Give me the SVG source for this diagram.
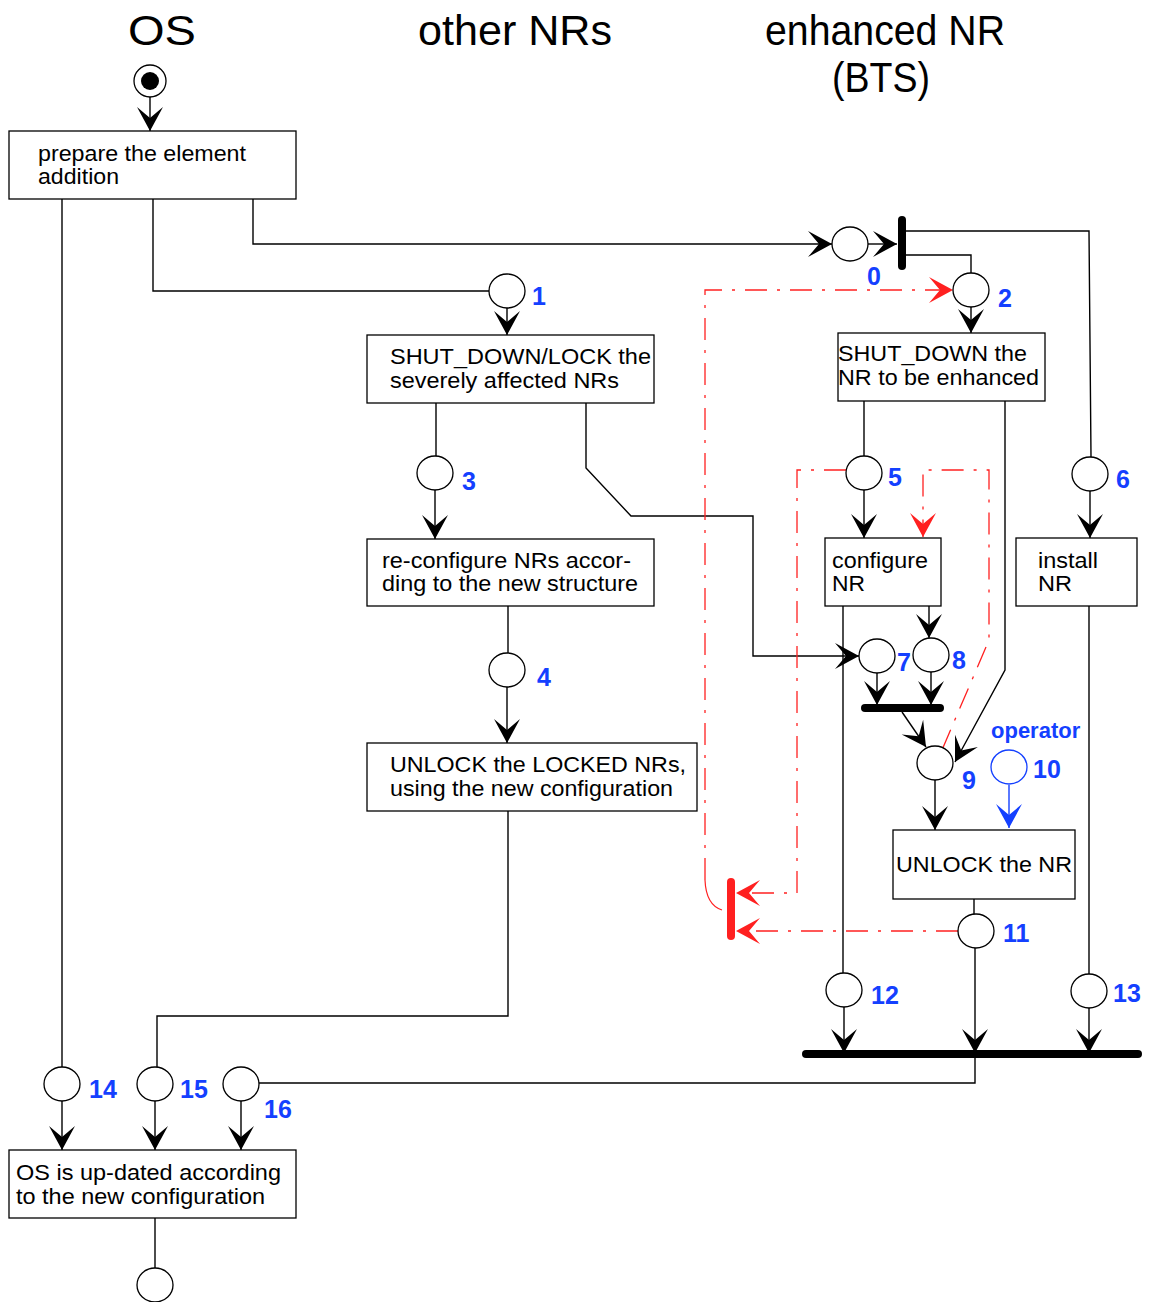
<svg xmlns="http://www.w3.org/2000/svg" width="1152" height="1302" viewBox="0 0 1152 1302">
<style>
.t{font-family:"Liberation Sans",Arial,sans-serif;font-size:42px;fill:#000}
.bx{fill:#fff;stroke:#000;stroke-width:1.3}
.tx{font-family:"Liberation Sans",Arial,sans-serif;font-size:22px;fill:#000}
.pl{fill:#fff;stroke:#000;stroke-width:1.3}
.lb{font-family:"Liberation Sans",Arial,sans-serif;font-size:25px;font-weight:bold;fill:#1440ff}
.ln{fill:none;stroke:#000;stroke-width:1.4}
.ar{fill:none;stroke:#000;stroke-width:1.4;marker-end:url(#ah)}
.rd{fill:none;stroke:#ff2020;stroke-width:1.3;stroke-dasharray:22,10,3,10}
.bar{stroke:#000;stroke-width:8;stroke-linecap:round}
</style>
<defs>
<marker id="ah" markerUnits="userSpaceOnUse" markerWidth="30" markerHeight="30" viewBox="-26 -15 28 30" refX="0" refY="0" orient="auto">
<path d="M0,0 L-24,-13 L-13,0 L-24,13 Z" fill="#000"/>
</marker>
<marker id="ahr" markerUnits="userSpaceOnUse" markerWidth="30" markerHeight="30" viewBox="-26 -15 28 30" refX="0" refY="0" orient="auto">
<path d="M0,0 L-24,-13 L-13,0 L-24,13 Z" fill="#ff2020"/>
</marker>
<marker id="ahb" markerUnits="userSpaceOnUse" markerWidth="30" markerHeight="30" viewBox="-26 -15 28 30" refX="0" refY="0" orient="auto">
<path d="M0,0 L-24,-13 L-13,0 L-24,13 Z" fill="#1440ff"/>
</marker>
</defs>
<rect width="1152" height="1302" fill="#fff"/>

<g id="titles">
<text class="t" x="128" y="45" textLength="68" lengthAdjust="spacingAndGlyphs">OS</text>
<text class="t" x="418" y="45" textLength="194" lengthAdjust="spacingAndGlyphs">other NRs</text>
<text class="t" x="765" y="45" textLength="240" lengthAdjust="spacingAndGlyphs">enhanced NR</text>
<text class="t" x="832" y="92" textLength="98" lengthAdjust="spacingAndGlyphs">(BTS)</text>
</g>

<g id="connectors">
<line class="ar" x1="150" y1="97" x2="150" y2="131"/>
<line class="ln" x1="62" y1="199" x2="62" y2="1067"/>
<polyline class="ln" points="153,199 153,291 489,291"/>
<polyline class="ar" points="253,199 253,244 832,244"/>
<line class="ar" x1="868" y1="244" x2="897" y2="244"/>
<polyline class="ln" points="905,231 1089,231 1091,457"/>
<polyline class="ln" points="905,255 971,255 971,273"/>
<line class="ar" x1="507" y1="308" x2="507" y2="335"/>
<line class="ar" x1="971" y1="307" x2="971" y2="333"/>
<line class="ln" x1="436" y1="403" x2="436" y2="456"/>
<line class="ar" x1="435" y1="490" x2="435" y2="539"/>
<polyline class="ar" points="586,403 586,468 631,516 753,516 753,656 859,656"/>
<line class="ln" x1="508" y1="606" x2="508" y2="653"/>
<line class="ar" x1="507" y1="687" x2="507" y2="743"/>
<polyline class="ln" points="508,811 508,1016 157,1016 157,1067"/>
<line class="ln" x1="864" y1="401" x2="864" y2="456"/>
<line class="ar" x1="864" y1="490" x2="864" y2="538"/>
<polyline class="ar" points="1005,401 1005,670 955,762"/>
<line class="ar" x1="1090" y1="491" x2="1090" y2="538"/>
<line class="ln" x1="843" y1="606" x2="843" y2="973"/>
<line class="ar" x1="929" y1="606" x2="929" y2="638"/>
<line class="ar" x1="877" y1="673" x2="877" y2="705"/>
<line class="ar" x1="931" y1="672" x2="931" y2="705"/>
<line class="ar" x1="902" y1="712" x2="926" y2="747"/>
<line class="ar" x1="935" y1="780" x2="935" y2="830"/>
<line x1="1009" y1="785" x2="1009" y2="828" stroke="#1440ff" stroke-width="1.4" marker-end="url(#ahb)"/>
<line class="ln" x1="974" y1="899" x2="974" y2="914"/>
<line class="ar" x1="975" y1="948" x2="975" y2="1053"/>
<polyline class="ln" points="975,1053 975,1083 259,1083"/>
<line class="ar" x1="844" y1="1007" x2="844" y2="1053"/>
<line class="ln" x1="1089" y1="606" x2="1089" y2="974"/>
<line class="ar" x1="1089" y1="1008" x2="1089" y2="1053"/>
<line class="ar" x1="62" y1="1101" x2="62" y2="1150"/>
<line class="ar" x1="155" y1="1101" x2="155" y2="1150"/>
<line class="ar" x1="241" y1="1101" x2="241" y2="1150"/>
<line class="ln" x1="155" y1="1218" x2="155" y2="1268"/>
<line class="bar" x1="902" y1="220" x2="902" y2="266"/>
<line class="bar" x1="865" y1="708" x2="940" y2="708"/>
<line class="bar" x1="806" y1="1054" x2="1138" y2="1054"/>
<polyline class="rd" points="705,880 705,290 953,290" marker-end="url(#ahr)"/>
<path d="M705,880 Q706,905 722,910" fill="none" stroke="#ff2020" stroke-width="1.2"/>
<polyline class="rd" points="846,470 797,470 797,893 736,893" marker-end="url(#ahr)"/>
<polyline class="rd" points="942,750 989,640 989,470 923,470 923,537" marker-end="url(#ahr)"/>
<polyline class="rd" points="958,931 736,931" marker-end="url(#ahr)"/>
<line x1="731" y1="882" x2="731" y2="936" stroke="#ff2020" stroke-width="8" stroke-linecap="round"/>
</g>

<g id="start"><circle cx="150" cy="81" r="16" class="pl"/><circle cx="150" cy="81" r="9" fill="#000"/></g>

<g id="prepare"><rect class="bx" x="9" y="131" width="287" height="68"/>
<text class="tx" x="38" y="161" textLength="208" lengthAdjust="spacingAndGlyphs">prepare the element</text><text class="tx" x="38" y="184" textLength="81" lengthAdjust="spacingAndGlyphs">addition</text></g>

<g id="p0"><ellipse class="pl" cx="850" cy="244" rx="18" ry="17"/><text class="lb" x="867" y="285">0</text></g>
<g id="p1"><ellipse class="pl" cx="507" cy="291" rx="18" ry="17"/><text class="lb" x="532" y="305">1</text></g>
<g id="p2"><ellipse class="pl" cx="971" cy="290" rx="18" ry="17"/><text class="lb" x="998" y="307">2</text></g>

<g id="shutlock"><rect class="bx" x="367" y="335" width="287" height="68"/>
<text class="tx" x="390" y="364" textLength="261" lengthAdjust="spacingAndGlyphs">SHUT_DOWN/LOCK the</text><text class="tx" x="390" y="388" textLength="229" lengthAdjust="spacingAndGlyphs">severely affected NRs</text></g>

<g id="shutnr"><rect class="bx" x="838" y="333" width="207" height="68"/>
<text class="tx" x="838" y="361" textLength="189" lengthAdjust="spacingAndGlyphs">SHUT_DOWN the</text><text class="tx" x="838" y="385" textLength="201" lengthAdjust="spacingAndGlyphs">NR to be enhanced</text></g>

<g id="p3"><ellipse class="pl" cx="435" cy="473" rx="18" ry="17"/><text class="lb" x="462" y="490">3</text></g>
<g id="p5"><ellipse class="pl" cx="864" cy="473" rx="18" ry="17"/><text class="lb" x="888" y="486">5</text></g>
<g id="p6"><ellipse class="pl" cx="1090" cy="474" rx="18" ry="17"/><text class="lb" x="1116" y="488">6</text></g>

<g id="reconf"><rect class="bx" x="367" y="539" width="287" height="67"/>
<text class="tx" x="382" y="568" textLength="249" lengthAdjust="spacingAndGlyphs">re-configure NRs accor-</text><text class="tx" x="382" y="591" textLength="256" lengthAdjust="spacingAndGlyphs">ding to the new structure</text></g>

<g id="confnr"><rect class="bx" x="825" y="538" width="116" height="68"/>
<text class="tx" x="832" y="568" textLength="96" lengthAdjust="spacingAndGlyphs">configure</text><text class="tx" x="832" y="591" textLength="33" lengthAdjust="spacingAndGlyphs">NR</text></g>

<g id="install"><rect class="bx" x="1016" y="538" width="121" height="68"/>
<text class="tx" x="1038" y="568" textLength="60" lengthAdjust="spacingAndGlyphs">install</text><text class="tx" x="1038" y="591" textLength="34" lengthAdjust="spacingAndGlyphs">NR</text></g>

<g id="p4"><ellipse class="pl" cx="507" cy="670" rx="18" ry="17"/><text class="lb" x="537" y="686">4</text></g>
<g id="p7"><ellipse class="pl" cx="877" cy="656" rx="18" ry="17"/><text class="lb" x="897" y="671">7</text></g>
<g id="p8"><ellipse class="pl" cx="931" cy="655" rx="18" ry="17"/><text class="lb" x="952" y="669">8</text></g>

<g id="unlockall"><rect class="bx" x="367" y="743" width="330" height="68"/>
<text class="tx" x="390" y="772" textLength="296" lengthAdjust="spacingAndGlyphs">UNLOCK the LOCKED NRs,</text><text class="tx" x="390" y="796" textLength="283" lengthAdjust="spacingAndGlyphs">using the new configuration</text></g>

<g id="p9"><ellipse class="pl" cx="935" cy="763" rx="18" ry="17"/><text class="lb" x="962" y="789">9</text></g>
<g id="p10"><text class="lb" x="991" y="738" style="font-size:22px">operator</text>
<ellipse cx="1009" cy="767" rx="18" ry="17" fill="#fff" stroke="#1440ff" stroke-width="1.3"/><text class="lb" x="1033" y="778">10</text></g>

<g id="unlocknr"><rect class="bx" x="893" y="830" width="182" height="69"/>
<text class="tx" x="896" y="872" textLength="176" lengthAdjust="spacingAndGlyphs">UNLOCK the NR</text></g>

<g id="p11"><ellipse class="pl" cx="976" cy="931" rx="18" ry="17"/><text class="lb" x="1003" y="942">11</text></g>
<g id="p12"><ellipse class="pl" cx="844" cy="990" rx="18" ry="17"/><text class="lb" x="871" y="1004">12</text></g>
<g id="p13"><ellipse class="pl" cx="1089" cy="991" rx="18" ry="17"/><text class="lb" x="1113" y="1002">13</text></g>

<g id="p14"><ellipse class="pl" cx="62" cy="1084" rx="18" ry="17"/><text class="lb" x="89" y="1098">14</text></g>
<g id="p15"><ellipse class="pl" cx="155" cy="1084" rx="18" ry="17"/><text class="lb" x="180" y="1098">15</text></g>
<g id="p16"><ellipse class="pl" cx="241" cy="1084" rx="18" ry="17"/><text class="lb" x="264" y="1118">16</text></g>

<g id="osupd"><rect class="bx" x="9" y="1150" width="287" height="68"/>
<text class="tx" x="16" y="1180" textLength="265" lengthAdjust="spacingAndGlyphs">OS is up-dated according</text><text class="tx" x="16" y="1204" textLength="249" lengthAdjust="spacingAndGlyphs">to the new configuration</text></g>

<g id="end"><ellipse class="pl" cx="155" cy="1285" rx="18" ry="17"/></g>
</svg>
